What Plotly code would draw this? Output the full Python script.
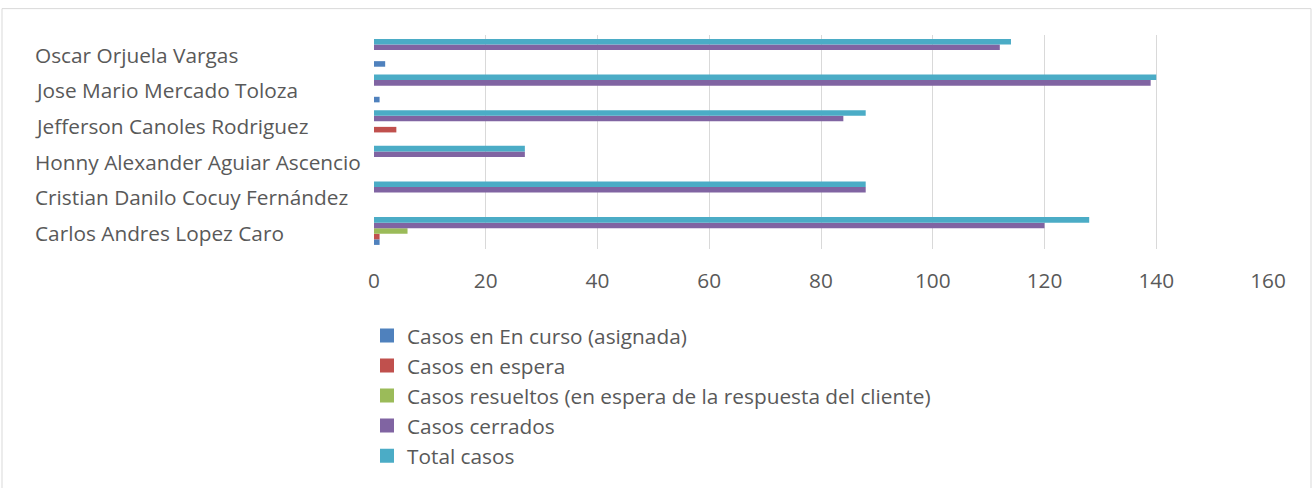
import plotly.graph_objects as go

categories = [
    "Carlos Andres Lopez Caro",
    "Cristian Danilo Cocuy Fernández",
    "Honny Alexander Aguiar Ascencio",
    "Jefferson Canoles Rodriguez",
    "Jose Mario Mercado Toloza",
    "Oscar Orjuela Vargas",
]
series_names = [
    "Casos en En curso (asignada)",
    "Casos en espera",
    "Casos resueltos (en espera de la respuesta del cliente)",
    "Casos cerrados",
    "Total casos",
]
en_curso = [1, 0, 0, 0, 1, 2]
en_espera = [1, 0, 0, 4, 0, 0]
resueltos = [6, 0, 0, 0, 0, 0]
cerrados = [120, 88, 27, 84, 139, 112]
total = [128, 88, 27, 88, 140, 114]
x_ticks = [0, 20, 40, 60, 80, 100, 120, 140, 160]

series_values = [en_curso, en_espera, resueltos, cerrados, total]
colors = ["#4F81BD", "#C0504D", "#9BBB59", "#8064A2", "#4BACC6"]

FONT = "Open Sans"
TXT = "#595959"
FS = 20.8

fig = go.Figure()
for i, (name, vals, col) in enumerate(zip(series_names, series_values, colors)):
    fig.add_trace(go.Bar(
        y=categories, x=vals, name=name, orientation="h",
        marker=dict(color=col, line=dict(width=0)),
        legendgroup=f"g{i}", showlegend=False,
    ))
# legend entries with larger square swatches
for i, (name, col) in enumerate(zip(series_names, colors)):
    fig.add_trace(go.Scatter(
        x=[None], y=[None], mode="markers", name=name,
        marker=dict(symbol="square", size=14, color=col),
        legendgroup=f"g{i}", showlegend=True, hoverinfo="skip",
    ))

W, H = 1313, 488
ml, mr, mt, mb = 374, 45, 35, 234
pw = W - ml - mr
ph = H - mt - mb

def px_x(p):
    return (p - ml) / pw

def px_y(p):
    return (H - mb - p) / ph

annotations = []
for c in categories:
    annotations.append(dict(
        x=px_x(33), xref="paper", y=c, yref="y", yshift=-2,
        text=c, showarrow=False, xanchor="left", yanchor="middle",
        font=dict(family=FONT, size=FS, color=TXT),
    ))

fig.update_layout(
    width=W, height=H,
    margin=dict(l=ml, r=mr, t=mt, b=mb, pad=0),
    paper_bgcolor="white", plot_bgcolor="white",
    barmode="group", bargap=0.22, bargroupgap=0,
    font=dict(family=FONT, size=FS, color=TXT),
    xaxis=dict(
        range=[0, 160], tickvals=x_ticks, showgrid=True,
        gridcolor="#D9D9D9", gridwidth=1, zeroline=False,
        showline=False, ticks="", ticklabelstandoff=17,
        tickfont=dict(family=FONT, size=FS, color=TXT),
        fixedrange=True,
    ),
    yaxis=dict(
        categoryorder="array", categoryarray=categories,
        showticklabels=False, showgrid=False, zeroline=False,
        showline=False, ticks="", fixedrange=True,
    ),
    legend=dict(
        x=px_x(367), y=px_y(322), xanchor="left", yanchor="top",
        orientation="v", traceorder="normal", tracegroupgap=0,
        font=dict(family=FONT, size=FS, color=TXT),
        itemwidth=30, bgcolor="rgba(0,0,0,0)",
    ),
    annotations=annotations,
    shapes=[dict(
        type="rect", xref="paper", yref="paper",
        x0=px_x(2), x1=px_x(1311), y0=px_y(540), y1=px_y(8),
        line=dict(color="#D9D9D9", width=1), fillcolor="rgba(0,0,0,0)",
        layer="below",
    )],
    showlegend=True,
)

fig.write_html(
    "out.html",
    config={"displayModeBar": False},
    post_script="document.body.style.margin='0';document.body.style.overflow='hidden';",
)
